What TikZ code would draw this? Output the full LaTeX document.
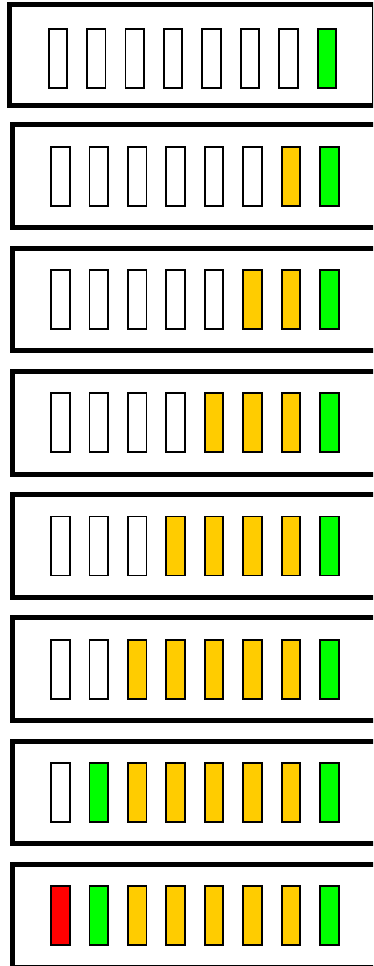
\documentclass[tikz,border=0pt]{standalone}
\definecolor{ambra}{HTML}{FFCC00}
\definecolor{verde}{HTML}{00FF00}
\definecolor{rosso}{HTML}{FF0000}
\tikzset{
  cornice/.style={draw, line width=5pt},
  lampada/.style={rectangle, draw, line width=1.8pt, inner sep=0pt, minimum width=18.5pt, minimum height=59pt}
}

\begin{document}
\begin{tikzpicture}[x=1pt, y=-1pt]
			\useasboundingbox (0,0) rectangle (373,966);
			\clip (0,0) rectangle (373,966);
			
			% Pannello 1
			\draw[cornice] (9.8,5) rectangle (374.8,105);
			\foreach \c [count=\i from 0] in {white,white,white,white,white,white,white,verde}
				\node[lampada, fill=\c] (s1b\i) at ({57.85+38.43*\i}, 58.3) {};
			
			% Pannello 2
			\draw[cornice] (12.5,124.8) rectangle (400,227.6);
			\foreach \c [count=\i from 0] in {white,white,white,white,white,white,ambra,verde}
				\node[lampada, fill=\c] (s2b\i) at ({60.35+38.43*\i}, 176.2) {};
			
			% Pannello 3
			\draw[cornice] (12.5,248.05) rectangle (400,350.85);
			\foreach \c [count=\i from 0] in {white,white,white,white,white,ambra,ambra,verde}
				\node[lampada, fill=\c] (s3b\i) at ({60.35+38.43*\i}, 299.45) {};
			
			% Pannello 4
			\draw[cornice] (12.5,371.3) rectangle (400,474.1);
			\foreach \c [count=\i from 0] in {white,white,white,white,ambra,ambra,ambra,verde}
				\node[lampada, fill=\c] (s4b\i) at ({60.35+38.43*\i}, 422.7) {};
			
			% Pannello 5
			\draw[cornice] (12.5,494.55) rectangle (400,597.35);
			\foreach \c [count=\i from 0] in {white,white,white,ambra,ambra,ambra,ambra,verde}
				\node[lampada, fill=\c] (s5b\i) at ({60.35+38.43*\i}, 545.95) {};
			
			% Pannello 6
			\draw[cornice] (12.5,617.8) rectangle (400,720.6);
			\foreach \c [count=\i from 0] in {white,white,ambra,ambra,ambra,ambra,ambra,verde}
				\node[lampada, fill=\c] (s6b\i) at ({60.35+38.43*\i}, 669.2) {};
			
			% Pannello 7
			\draw[cornice] (12.5,741.05) rectangle (400,843.85);
			\foreach \c [count=\i from 0] in {white,verde,ambra,ambra,ambra,ambra,ambra,verde}
				\node[lampada, fill=\c] (s7b\i) at ({60.35+38.43*\i}, 792.45) {};
			
			% Pannello 8
			\draw[cornice] (12.5,864.3) rectangle (400,967.1);
			\foreach \c [count=\i from 0] in {rosso,verde,ambra,ambra,ambra,ambra,ambra,verde}
				\node[lampada, fill=\c] (s8b\i) at ({60.35+38.43*\i}, 915.7) {};
		\end{tikzpicture}
\end{document}
